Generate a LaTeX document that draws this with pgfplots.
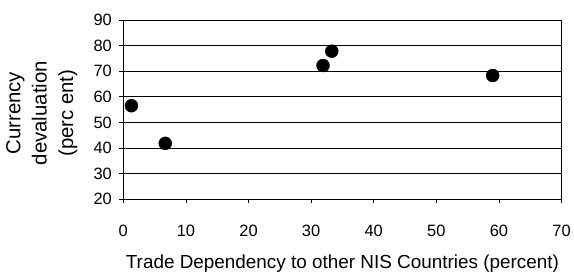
\documentclass[border=0pt]{standalone}
\usepackage{pgfplots}
\pgfplotsset{compat=1.18}
\usepackage{fontspec}
\setmainfont{Liberation Sans}
\begin{document}
\begin{tikzpicture}
\begin{axis}[
  at={(0,0)}, anchor=south west,
  scale only axis,
  width=439bp, height=179.5bp,
  xmin=0, xmax=70, ymin=20, ymax=90,
  xtick={0,10,...,70}, ytick={20,30,...,90},
  ymajorgrids, major grid style={black, line width=0.6pt},
  axis line style={black, line width=0.8pt},
  tick align=outside,
  xtick pos=bottom, ytick pos=left,
  major tick length=4bp,
  tick style={black, line width=0.8pt},
  /pgf/number format/assume math mode=true,
  xticklabel style={font=\fontsize{16.5}{18}\selectfont, yshift=-18bp},
  yticklabel style={font=\fontsize{16.5}{18}\selectfont, xshift=-4bp},
  xlabel={Trade Dependency to other NIS Countries (percent)},
  xlabel style={font=\fontsize{19}{21}\selectfont, at={(axis description cs:0.5,-0.362)}, anchor=center},
  ylabel={Currency\\devaluation\\(perc ent)},
  ylabel style={font=\fontsize{20.5}{26.5}\selectfont, align=center, at={(axis description cs:-0.097,0.48)}, anchor=south},
  clip=false,
]
\addplot[only marks, mark=*, mark size=6.5bp, mark options={fill=black, draw=black}] coordinates {
  (1.3,56.5) (6.7,41.8) (31.9,72.2) (33.3,77.8) (59.0,68.3)
};
\end{axis}
\useasboundingbox (-123.5bp,-73.5bp) rectangle (450.5bp,199.5bp);
\end{tikzpicture}
\end{document}
